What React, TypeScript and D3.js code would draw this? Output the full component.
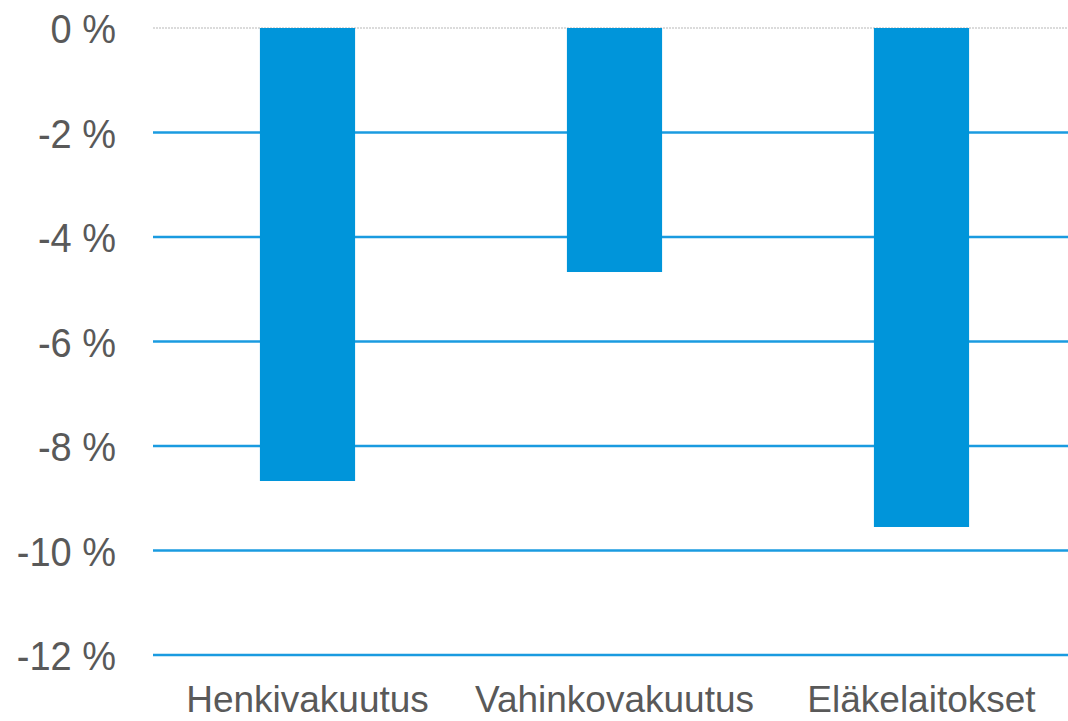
import React from "react";
import * as d3 from "d3";

const categories = ["Henkivakuutus", "Vahinkovakuutus", "Eläkelaitokset"];
const values = [-8.67, -4.67, -9.55];
const yTicks = [0, -2, -4, -6, -8, -10, -12];

export default function App() {
  const width = 1068;
  const height = 721;
  const left = 153;
  const top = 28;
  const bottom = 655;

  const x = d3.scaleBand<string>().domain(categories).range([left + 1, 1075]).paddingInner(0.69).paddingOuter(0.345);
  const y = d3.scaleLinear().domain([0, -12]).range([top, bottom]);

  const font = "'Liberation Sans', Arial, sans-serif";

  return (
    <svg width={width} height={height} style={{ position: "absolute", left: 0, top: 0, background: "#fff" }}>
      {yTicks.map((t) => (
        <g key={t}>
          <line
            x1={left}
            x2={1068}
            y1={y(t)}
            y2={y(t)}
            stroke={t === 0 ? "#cfcfcf" : "#1a9be0"}
            strokeWidth={t === 0 ? 1.5 : 2.5}
            strokeDasharray={t === 0 ? "2,1" : undefined}
          />
          <text
            x={116}
            y={y(t)}
            dy="0.37em"
            textAnchor="end"
            fontFamily={font}
            fontSize={38}
            fill="#595959"
            transform={`translate(0, ${y(t)}) scale(1, 1.08) translate(0, ${-y(t)})`}
          >
            {`${t} %`}
          </text>
        </g>
      ))}
      {categories.map((c, i) => (
        <rect
          key={c}
          x={x(c)}
          y={y(0)}
          width={x.bandwidth()}
          height={y(values[i]) - y(0)}
          fill="#0095da"
        />
      ))}
      {categories.map((c) => (
        <text
          key={c}
          x={(x(c) as number) + x.bandwidth() / 2}
          y={712}
          textAnchor="middle"
          fontFamily={font}
          fontSize={37}
          fill="#595959"
        >
          {c}
        </text>
      ))}
    </svg>
  );
}
